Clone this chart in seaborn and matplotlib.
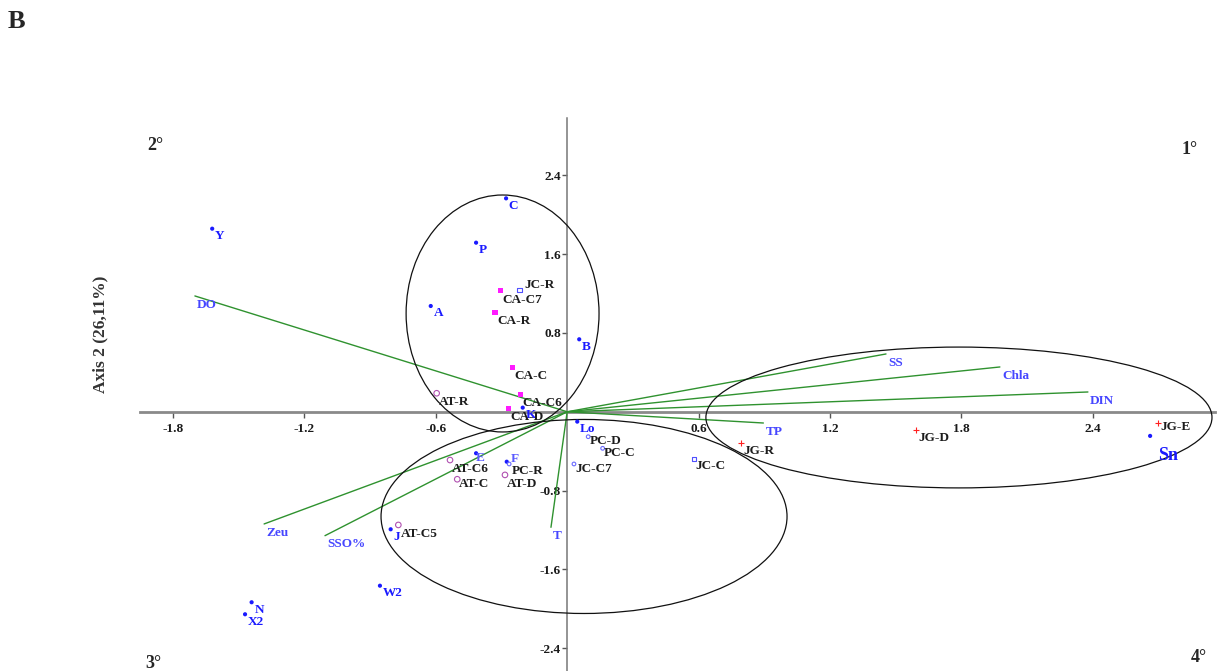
import matplotlib
matplotlib.use("Agg")
import matplotlib.pyplot as plt
from matplotlib.patches import Ellipse
import pandas as pd
import seaborn as sns

# Species scores (blue points)
species_names = ["C", "Y", "P", "A", "B", "K", "Lo", "E", "F", "J", "W2", "N", "X2", "Sn"]
species_x = [-0.279, -1.621, -0.416, -0.623, 0.055, -0.203, 0.046, -0.416, -0.276,
             -0.806, -0.855, -1.441, -1.471, 2.662]
species_y = [2.167, 1.859, 1.717, 1.074, 0.736, 0.042, -0.100, -0.421, -0.507,
             -1.193, -1.766, -1.934, -2.056, -0.245]

# Sampling-site scores, grouped by reservoir
site_names = ["CA-C7", "CA-R", "CA-C", "CA-C6", "CA-D",
              "AT-R", "AT-C6", "AT-C", "AT-D", "AT-C5",
              "PC-R", "PC-D", "PC-C", "JC-C7",
              "JC-R", "JC-C",
              "JG-R", "JG-D", "JG-E"]
site_group = ["CA"] * 5 + ["AT"] * 5 + ["PC"] * 4 + ["JC"] * 2 + ["JG"] * 3
site_x = [-0.304, -0.330, -0.249, -0.212, -0.269,
          -0.596, -0.535, -0.502, -0.284, -0.771,
          -0.265, 0.096, 0.162, 0.031,
          -0.216, 0.579,
          0.796, 1.593, 2.698]
site_y = [1.229, 1.006, 0.448, 0.178, 0.036,
          0.188, -0.490, -0.685, -0.641, -1.149,
          -0.530, -0.253, -0.371, -0.530,
          1.237, -0.479,
          -0.312, -0.180, -0.109]

# Environmental variables (vectors from the origin)
env_names = ["DO", "SS", "Chla", "DIN", "TP", "T", "Zeu", "SSO%"]
env_x = [-1.700, 1.456, 1.976, 2.378, 0.896, -0.074, -1.384, -1.106]
env_y = [1.176, 0.587, 0.455, 0.201, -0.114, -1.173, -1.139, -1.258]

# Grouping ellipses: centre, width, height (axis units)
ell_cx = [-0.295, 0.077, 1.789]
ell_cy = [0.998, -1.063, -0.058]
ell_w = [0.881, 1.854, 2.311]
ell_h = [2.406, 1.970, 1.430]

x_ticks = [-1.8, -1.2, -0.6, 0.6, 1.2, 1.8, 2.4]
y_ticks = [2.4, 1.6, 0.8, -0.8, -1.6, -2.4]
x_tick_labels = ["-1.8", "-1.2", "-0.6", "0.6", "1.2", "1.8", "2.4"]
y_tick_labels = ["2.4", "1.6", "0.8", "-0.8", "-1.6", "-2.4"]

sns.set_theme(style="ticks")
plt.rcParams["font.family"] = ["Liberation Serif", "DejaVu Serif"]

fig = plt.figure(figsize=(12.18, 6.71), dpi=100)
ax = fig.add_axes([0, 0, 1, 1])
ax.set_facecolor("white")

# environmental vectors
vec_df = pd.DataFrame({
    "var": [n for n in env_names for _ in range(2)],
    "x": [v for x in env_x for v in (0.0, x)],
    "y": [v for y in env_y for v in (0.0, y)],
})
sns.lineplot(data=vec_df, x="x", y="y", units="var", estimator=None, sort=False,
             color="#2f922f", lw=1.0, ax=ax, legend=False)

# ellipses
for cx, cy, w, h in zip(ell_cx, ell_cy, ell_w, ell_h):
    ax.add_patch(Ellipse((cx, cy), w, h, fill=False, edgecolor="#111111", lw=0.9, zorder=2))

# species points
sns.scatterplot(x=species_x, y=species_y, color="#1a1aff", s=9, edgecolor="none",
                ax=ax, legend=False, zorder=4)

# site markers by reservoir
site_df = pd.DataFrame({"name": site_names, "group": site_group, "x": site_x, "y": site_y})
group_style = {
    "CA": dict(marker="s", s=14, color="#ff1aff", edgecolor="none"),
    "AT": dict(marker="o", s=16, facecolor="none", edgecolor="#b050b0", linewidth=0.8),
    "PC": dict(marker="o", s=7, facecolor="none", edgecolor="#6a6aff", linewidth=0.8),
    "JC": dict(marker="s", s=12, facecolor="none", edgecolor="#5050ff", linewidth=0.8),
    "JG": dict(marker="+", s=16, color="#ff2020", linewidth=0.8),
}
for g, sub in site_df.groupby("group"):
    sns.scatterplot(data=sub, x="x", y="y", ax=ax, legend=False, zorder=4, **group_style[g])

# labels
label_kw = dict(textcoords="offset points", ha="left", va="top",
                fontweight="bold", zorder=5)
species_offsets = {"F": (3, 6), "Sn": (6, -8), "E": (0, 1)}
for n, x, y in zip(species_names, species_x, species_y):
    off = species_offsets.get(n, (2, -1))
    size = 13 if n == "Sn" else 9.5
    col = "#5a5aff" if n in ("E", "F") else "#1a1aff"
    ax.annotate(n, (x, y), xytext=off, fontsize=size, color=col, **label_kw)

site_offsets = {"JC-R": (3, 8), "JG-E": (2, 1), "PC-D": (1, 1), "PC-C": (1, 1),
                "JC-C7": (1, 1), "JC-C": (1, -1), "AT-C": (1, 1), "PC-R": (2, -1)}
for n, x, y in zip(site_names, site_x, site_y):
    off = site_offsets.get(n, (1.5, -2))
    ax.annotate(n, (x, y), xytext=off, fontsize=9.5, color="#1c1c1c", **label_kw)

for n, x, y in zip(env_names, env_x, env_y):
    ax.annotate(n, (x, y), xytext=(1.5, -2), fontsize=9.5, color="#4646ff", **label_kw)

# centred axes
ax.set_xlim(-2.590, 2.972)
ax.set_ylim(-2.632, 4.181)
for s in ("top", "right"):
    ax.spines[s].set_visible(False)
ax.spines["bottom"].set_position(("data", 0))
ax.spines["left"].set_position(("data", 0))
ax.spines["bottom"].set_bounds(-1.951, 2.958)
ax.spines["left"].set_bounds(-2.7, 2.983)
ax.spines["bottom"].set_color("#8a8a8a")
ax.spines["bottom"].set_linewidth(2.0)
ax.spines["left"].set_color("#777777")
ax.spines["left"].set_linewidth(1.1)
ax.spines["bottom"].set_zorder(1)
ax.spines["left"].set_zorder(1)

ax.set_xticks(x_ticks)
ax.set_xticklabels(x_tick_labels)
ax.set_yticks(y_ticks)
ax.set_yticklabels(y_tick_labels)
ax.tick_params(axis="x", direction="out", length=4, width=1, color="#555555", pad=4,
               labelsize=9.5)
ax.tick_params(axis="y", direction="out", length=3.5, width=1, color="#555555", pad=1,
               labelsize=9.5)
for lab in ax.get_xticklabels() + ax.get_yticklabels():
    lab.set_fontweight("bold")
    lab.set_color("#1a1a1a")
ax.set_xlabel("")
ax.set_ylabel("")

W, H = 1218, 671
fig.text(8 / W, 1 - 22 / H, "B", fontsize=19, fontweight="bold", va="center", ha="left")
fig.text(155 / W, 1 - 146 / H, "2°", fontsize=13, fontweight="bold", va="center", ha="center")
fig.text(1190 / W, 1 - 149 / H, "1°", fontsize=13, fontweight="bold", va="center", ha="center")
fig.text(153 / W, 1 - 664 / H, "3°", fontsize=13, fontweight="bold", va="center", ha="center")
fig.text(1199 / W, 1 - 657 / H, "4°", fontsize=13, fontweight="bold", va="center", ha="center")
fig.text(100 / W, 1 - 334 / H, "Axis 2 (26,11%)", fontsize=12.5, fontweight="bold",
         rotation=90, va="center", ha="center", color="#333333")

fig.savefig("out.png", dpi=100)
